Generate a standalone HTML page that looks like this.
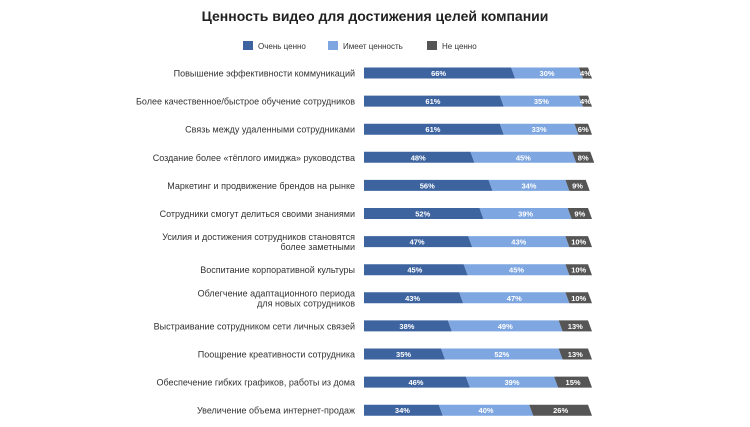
<!DOCTYPE html>
<html><head><meta charset="utf-8"><style>
body{margin:0;background:#fff;font-family:"Liberation Sans","DejaVu Sans",sans-serif;}
</style></head><body>
<svg width="750" height="422" id="c">
<text x="375" y="21" text-anchor="middle" font-size="14" font-weight="bold" fill="#222">Ценность видео для достижения целей компании</text>
<g>
<rect x="243" y="41" width="10" height="9" fill="#3e64a0"/>
<text x="258" y="49" font-size="8" fill="#333">Очень ценно</text>
<rect x="328" y="41" width="10" height="9" fill="#7ea6e0"/>
<text x="343" y="49" font-size="8" fill="#333">Имеет ценность</text>
<rect x="427" y="41" width="10" height="9" fill="#555"/>
<text x="442" y="49" font-size="8" fill="#333">Не ценно</text>
</g>
<g id="bars"></g>
</svg>
<script>
const categories=[["Повышение эффективности коммуникаций"],["Более качественное/быстрое обучение сотрудников"],["Связь между удаленными сотрудниками"],["Создание более «тёплого имиджа» руководства"],["Маркетинг и продвижение брендов на рынке"],["Сотрудники смогут делиться своими знаниями"],["Усилия и достижения сотрудников становятся","более заметными"],["Воспитание корпоративной культуры"],["Облегчение адаптационного периода","для новых сотрудников"],["Выстраивание сотрудником сети личных связей"],["Поощрение креативности сотрудника"],["Обеспечение гибких графиков, работы из дома"],["Увеличение объема интернет-продаж"]];
const veryValuable=[66,61,61,48,56,52,47,45,43,38,35,46,34];
const hasValue=[30,35,33,45,34,39,43,45,47,49,52,39,40];
const notValuable=[4,4,6,8,9,9,10,10,10,13,13,15,26];
const colors=["#3e64a0","#7ea6e0","#555555"];
const ns="http://www.w3.org/2000/svg";
const g=document.getElementById("bars");
const x0=364,w=226,sl=2,bh=11;
const xs=v=>x0+v/100*w;
const ys=i=>73+i*28.1;
function mk(t,a){const e=document.createElementNS(ns,t);for(const k in a)e.setAttribute(k,a[k]);return e;}
categories.forEach((lab,i)=>{
  const yc=ys(i);
  const lines=lab.length;
  lab.forEach((l,j)=>{
    const t=mk("text",{x:355,y:yc+3.5+(j-(lines-1)/2)*10,"text-anchor":"end","font-size":"9",fill:"#333"});
    
    
    t.textContent=l;g.appendChild(t);
  });
  const vals=[veryValuable[i],hasValue[i],notValuable[i]];
  let cum=0;
  vals.forEach((v,k)=>{
    const a=xs(cum),b=xs(cum+v);
    const y1=yc-bh/2,y2=yc+bh/2;
    const la=k==0?a:a-sl,lb=k==0?a:a+sl;
    const p=mk("polygon",{points:`${la},${y1} ${b-sl},${y1} ${b+sl},${y2} ${lb},${y2}`,fill:colors[k]});
    
    
    g.appendChild(p);
    const t=mk("text",{x:(a+b)/2,y:yc+3,"text-anchor":"middle","font-size":"7.5","font-weight":"bold",fill:"#fff"});
    
    
    t.textContent=v+"%";g.appendChild(t);
    cum+=v;
  });
});
</script>
</body></html>
